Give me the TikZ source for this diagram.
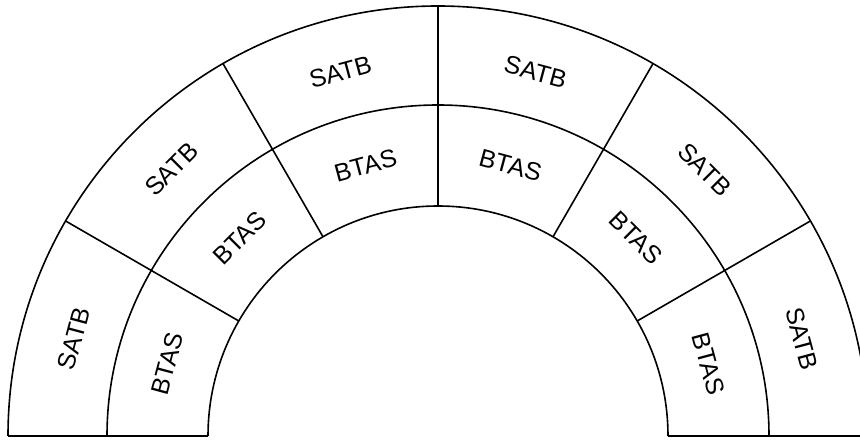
\documentclass[tikz,border=0pt]{standalone}
\usepackage{fontspec}
\setmainfont{Liberation Sans}
\begin{document}
\begin{tikzpicture}[x=1pt,y=1pt,line width=1.6pt,
  lab/.style={font=\fontsize{25}{25}\selectfont, inner sep=0pt}]
\useasboundingbox (0,0) rectangle (860,441);
\clip (0,0) rectangle (860,441);
\coordinate (O) at (438,5);
% arcs
\draw ([shift={(180:430)}]O) arc[start angle=180,end angle=0,radius=430];
\draw ([shift={(180:331)}]O) arc[start angle=180,end angle=0,radius=331];
\draw ([shift={(180:230)}]O) arc[start angle=180,end angle=0,radius=230];
% radial dividers and base lines
\foreach \a in {0,30,...,180}
  \draw ([shift={(\a:230)}]O) -- ([shift={(\a:430)}]O);
% labels
\foreach \a/\n in {15/1,45/2,75/3,105/4,135/5,165/6}{
  \node[lab,rotate=\a-90] (s\n) at ([shift={(\a:377)}]O) {SATB};
  \node[lab,rotate=\a-90] (b\n) at ([shift={(\a:280)}]O) {BTAS};
}
\end{tikzpicture}
\end{document}
